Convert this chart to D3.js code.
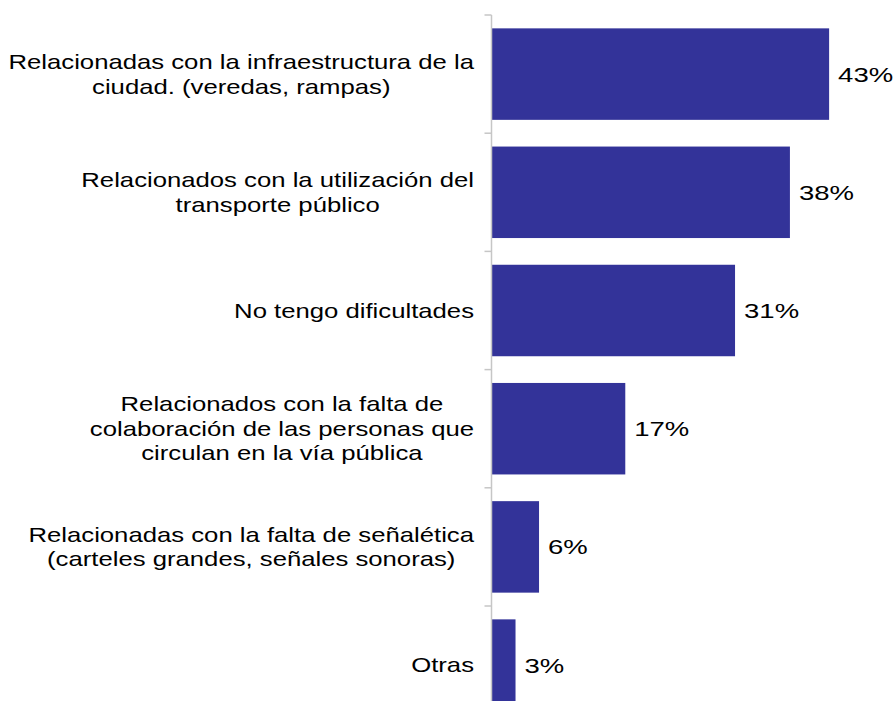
<!DOCTYPE html>
<html>
<head>
<meta charset="utf-8">
<style>
  body { margin: 0; background: #fff; }
  .cat { font-family: "Liberation Sans", Arial, sans-serif; font-size: 20px; fill: #000; text-anchor: middle; }
  .val { font-family: "Liberation Sans", Arial, sans-serif; font-size: 21px; fill: #000; }
  .bar { fill: #333399; }
  .axis { stroke: #c6c6c6; stroke-width: 1.5px; }
</style>
<script src="https://cdn.jsdelivr.net/npm/d3@7"></script>
</head>
<body>
<svg id="chart" width="896" height="701"></svg>
<script>
// categorias (lineas de cada etiqueta)
var categories = [
  ["Relacionadas con la infraestructura de la", "ciudad. (veredas, rampas)"],
  ["Relacionados con la utilización del", "transporte público"],
  ["No tengo dificultades"],
  ["Relacionados con la falta de", "colaboración de las personas que", "circulan en la vía pública"],
  ["Relacionadas con la falta de señalética", "(carteles grandes, señales sonoras)"],
  ["Otras"]
];
var values = [0.43, 0.38, 0.31, 0.17, 0.06, 0.03];
var valueLabels = ["43%", "38%", "31%", "17%", "6%", "3%"];

var svg = d3.select("#chart");
var axisX = 491.5;
var topY = 15;
var lineH = 24.5;
var sxCat = 1.285, sxVal = 1.31; // texto ensanchado como en el original

var ids = d3.range(categories.length);
var y = d3.scaleBand()
  .domain(ids)
  .range([topY, topY + 6 * 118.2])
  .paddingInner(0.226)
  .paddingOuter(0.113);

var x = d3.scaleLinear()
  .domain([0, 0.5])
  .range([axisX + 0.5, axisX + 0.5 + 392]);

// barras
svg.append("g").selectAll("rect")
  .data(ids)
  .enter()
  .append("rect")
  .attr("class", "bar")
  .attr("x", x(0))
  .attr("y", function(i) { return y(i); })
  .attr("width", function(i) { return x(values[i]) - x(0); })
  .attr("height", y.bandwidth());

// eje vertical + marcas entre categorias
var step = y.step();
svg.append("line")
  .attr("class", "axis")
  .attr("x1", axisX).attr("x2", axisX)
  .attr("y1", topY).attr("y2", topY + 6 * step);

svg.append("g").selectAll("line")
  .data(ids)
  .enter()
  .append("line")
  .attr("class", "axis")
  .attr("x1", axisX - 7).attr("x2", axisX)
  .attr("y1", function(i) { return y(i) - y.paddingInner() * step / 2; })
  .attr("y2", function(i) { return y(i) - y.paddingInner() * step / 2; });

// etiquetas de valor
svg.append("g").selectAll("g")
  .data(ids)
  .enter()
  .append("g")
  .attr("transform", function(i) {
    return "translate(" + (x(values[i]) + 9) + "," + (y(i) + y.bandwidth() / 2) + ") scale(" + sxVal + ",1)";
  })
  .append("text")
  .attr("class", "val")
  .attr("dy", "0.36em")
  .text(function(i) { return valueLabels[i]; });

// etiquetas de categoria (centradas, bloque alineado a la derecha)
var rightEdge = 474;
ids.forEach(function(i) {
  var lines = categories[i];
  var cy = y(i) + y.bandwidth() / 2;
  var g = svg.append("g")
    .attr("transform", "translate(" + rightEdge + "," + cy + ") scale(" + sxCat + ",1)");
  var texts = g.selectAll("text")
    .data(lines)
    .enter()
    .append("text")
    .attr("class", "cat")
    .attr("y", function(d, k) { return (k - (lines.length - 1) / 2) * lineH; })
    .attr("dy", "0.36em")
    .text(function(d) { return d; });
  var maxW = d3.max(texts.nodes(), function(n) { return n.getComputedTextLength(); });
  texts.attr("x", -maxW / 2);
});
</script>
</body>
</html>
